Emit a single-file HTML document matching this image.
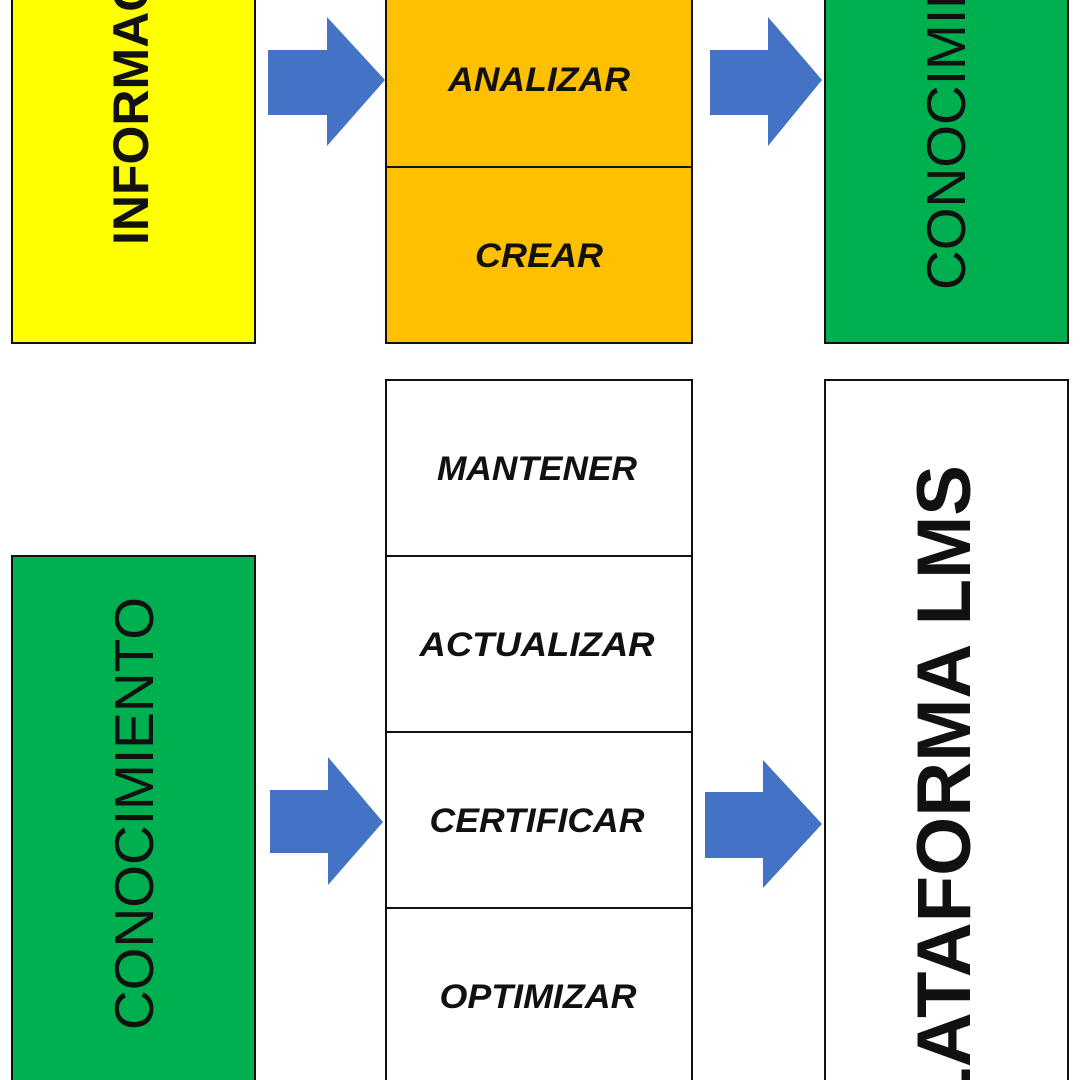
<!DOCTYPE html>
<html><head><meta charset="utf-8"><style>html,body{margin:0;padding:0;background:#fff;width:1080px;height:1080px;overflow:hidden}svg{display:block}</style></head>
<body>
<svg width="1080" height="1080" viewBox="0 0 1080 1080" xmlns="http://www.w3.org/2000/svg" font-family="Liberation Sans, Arial, sans-serif" overflow="hidden">
<defs><clipPath id="c"><rect x="0" y="0" width="1080" height="1080"/></clipPath></defs>
<g clip-path="url(#c)">
<rect x="0" y="0" width="1080" height="1080" fill="#fff"/>
<rect x="12" y="-2" width="243" height="345" fill="#FFFF00" stroke="#111" stroke-width="2"/>
<text transform="translate(148,245) rotate(-90)" font-size="50" font-weight="bold" fill="#111">INFORMACIÓN</text>
<polygon points="268,50 327,50 327,17 385,80 327,146 327,115 268,115" fill="#4472C4"/>
<rect x="386" y="-2" width="306" height="345" fill="#FFC000" stroke="#111" stroke-width="2"/>
<line x1="386" y1="167" x2="692" y2="167" stroke="#111" stroke-width="2"/>
<text x="539" y="91" font-size="34" font-weight="bold" font-style="italic" text-anchor="middle" textLength="182" lengthAdjust="spacingAndGlyphs" fill="#111">ANALIZAR</text>
<text x="539" y="267" font-size="34" font-weight="bold" font-style="italic" text-anchor="middle" textLength="128" lengthAdjust="spacingAndGlyphs" fill="#111">CREAR</text>
<polygon points="710,50 768,50 768,17 822,80 768,146 768,115 710,115" fill="#4472C4"/>
<rect x="825" y="-2" width="243" height="345" fill="#00B050" stroke="#111" stroke-width="2"/>
<text transform="translate(965,290) rotate(-90)" font-size="55" fill="#111">CONOCIMIENTO</text>
<rect x="12" y="556" width="243" height="526" fill="#00B050" stroke="#111" stroke-width="2"/>
<text transform="translate(153,1030) rotate(-90)" font-size="55" fill="#111" textLength="433" lengthAdjust="spacingAndGlyphs">CONOCIMIENTO</text>
<polygon points="270,790 328,790 328,757 383,822 328,885 328,853 270,853" fill="#4472C4"/>
<rect x="386" y="380" width="306" height="702" fill="#fff" stroke="#111" stroke-width="2"/>
<line x1="386" y1="556" x2="692" y2="556" stroke="#111" stroke-width="2"/>
<line x1="386" y1="732" x2="692" y2="732" stroke="#111" stroke-width="2"/>
<line x1="386" y1="908" x2="692" y2="908" stroke="#111" stroke-width="2"/>
<g font-size="34" font-weight="bold" font-style="italic" text-anchor="middle" fill="#111">
<text x="537" y="480" textLength="200" lengthAdjust="spacingAndGlyphs">MANTENER</text>
<text x="537" y="656" textLength="235" lengthAdjust="spacingAndGlyphs">ACTUALIZAR</text>
<text x="537" y="832" textLength="215" lengthAdjust="spacingAndGlyphs">CERTIFICAR</text>
<text x="538" y="1008" textLength="197" lengthAdjust="spacingAndGlyphs">OPTIMIZAR</text>
</g>
<polygon points="705,792 763,792 763,760 822,824 763,888 763,858 705,858" fill="#4472C4"/>
<rect x="825" y="380" width="243" height="702" fill="#fff" stroke="#111" stroke-width="2"/>
<text transform="translate(970,465) rotate(-90)" font-size="76" font-weight="bold" fill="#111" text-anchor="end">PLATAFORMA LMS</text>
</g>
</svg>
</body></html>
